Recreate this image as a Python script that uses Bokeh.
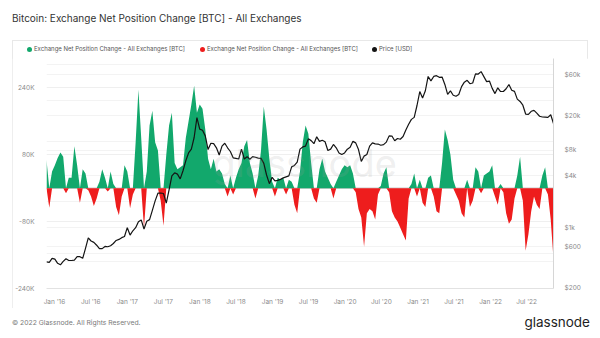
import pandas as pd
from bokeh.plotting import figure
from bokeh.layouts import column
from bokeh.models import (Range1d, LogScale, LogAxis, FixedTicker, Grid, Label, Div,
                          Span, MonthsTicker, DatetimeTickFormatter)
from bokeh.embed import file_html
from bokeh.resources import INLINE

# ---------------- data ----------------
start_date = "2015-11-22"
step = "14D"

# Exchange net position change, thousands of BTC (every 14 days)
netpos_kbtc = [
    67, -47, 40, 55, 72, 85, 75, -12, 25, 25, 100, 55, -35, 45, 35, -5, -20, -43, -25, 15,
    45, 25, -8, 40, 10, -45, -65, -20, 55, 40, -48, -15, 110, 235, 120, -95, 40, 150, 185, 110,
    90, -30, -90, 80, 150, 180, 60, 45, 50, 55, 120, 160, 200, 245, 180, 200, 190, 140, 70, 45,
    70, 40, 45, 35, 10, -20, 30, -15, 25, 45, 60, 100, 115, 60, 35, -25, 30, 90, 195, 140,
    70, 15, -20, 25, 20, 25, -15, 20, 15, -40, -60, 40, 110, 150, 130, 60, -25, -35, 45, 70,
    40, 25, 10, -25, 15, 30, 45, 55, 50, 55, 35, -10, -50, -70, -140, -60, -50, -55, -75, -15,
    5, 35, 50, -10, -55, -70, -80, -95, -110, -125, -25, 10, 35, -20, 20, -35, -45, 25, 30, -20,
    -55, -60, 60, 140, 115, 80, 20, -15, -30, -60, -70, 20, -45, -30, 50, 40, -12, 30, 35, 40,
    55, -20, -40, 10, -10, -60, -85, -75, -25, 30, 75, -30, -150, -110, -55, -20, -40, -50, 30, 50,
    -15, -75, -170,
]

# BTC price in USD (same dates)
price_usd = [
    400, 395, 440, 430, 385, 370, 405, 435, 415, 415, 420, 460, 460, 440, 575, 760, 700, 675, 625, 570,
    570, 605, 600, 617, 655, 710, 730, 765, 790, 1000, 820, 920, 1000, 1170, 1230, 965, 1190, 1240, 1590, 2050,
    2520, 2530, 2500, 1930, 2750, 4000, 4350, 4200, 3700, 4600, 6000, 7400, 8200, 11200, 19100, 14000, 13600, 11700, 8100, 9600,
    9500, 8500, 7000, 8900, 9600, 8500, 7700, 6500, 6400, 6300, 8200, 6300, 6700, 6250, 6700, 6600, 6450, 6400, 5600, 4100,
    3250, 3850, 3500, 3550, 3650, 3800, 3900, 4000, 5100, 5300, 5800, 8200, 8700, 8900, 10800, 10300, 9500, 11400, 10100, 10400,
    10000, 7900, 8200, 9300, 8500, 7400, 7100, 7400, 8200, 8600, 10100, 9700, 8100, 5900, 6800, 7100, 8900, 9700, 9450, 9400,
    9100, 9250, 9900, 11700, 11650, 10250, 10900, 10700, 11500, 13700, 16000, 18200, 19200, 26400, 38300, 32300, 39200, 57500, 51000, 57500,
    58700, 56200, 56600, 46400, 35600, 39100, 34700, 33800, 35400, 43800, 49300, 51800, 47300, 48200, 61500, 61300, 65500, 57200, 50000, 50800,
    41800, 36300, 42400, 38400, 38400, 41300, 46400, 39700, 38500, 31300, 29400, 26600, 21000, 20800, 22600, 23200, 21500, 19800, 19400, 19300,
    19200, 20600, 16300,
]

left_ticks = [-240000, -80000, 80000, 240000]
left_labels = ["-240K", "-80K", "80K", "240K"]
right_ticks = [200, 600, 1000, 4000, 8000, 20000, 60000]
right_labels = ["$200", "$600", "$1k", "$4k", "$8k", "$20k", "$60k"]
right_grid = [400, 500, 600, 1000, 2000, 4000, 8000, 10000, 20000, 30000, 60000, 80000]

title_text = "Bitcoin: Exchange Net Position Change [BTC] - All Exchanges"
series_name = "Exchange Net Position Change - All Exchanges [BTC]"
price_name = "Price [USD]"
footer_text = "\u00a9 2022 Glassnode. All Rights Reserved."
brand = "glassnode"

# ---------------- derived ----------------
dates = pd.date_range(start_date, periods=len(netpos_kbtc), freq=step)
vals = [v * 1000 for v in netpos_kbtc]
pos = [max(v, 0) for v in vals]
neg = [min(v, 0) for v in vals]

GREEN = "#12a86c"
RED = "#ee1d1d"
BLACK = "#141414"
FONT = "Inter"

# chart box occupies x 12..588, y 40..308 of the page: legend row (18px) + figure (250px)
BW, LH, PH = 576, 18, 250
FL, FR, FT, FB = 32, 541, 0, 234   # frame inside the figure

p = figure(width=BW, height=PH, x_axis_type="datetime", output_backend="svg",
           toolbar_location=None,
           x_range=Range1d(dates[0], dates[-1]),
           y_range=Range1d(-240000, 310000),
           min_border_left=FL, min_border_right=BW - FR,
           min_border_top=FT, min_border_bottom=PH - FB,
           margin=(0, 0, 0, 0))
p.outline_line_color = None
p.background_fill_color = "white"
p.border_fill_color = "white"

p.extra_y_ranges = {"price": Range1d(196, 93000)}
p.extra_y_scales = {"price": LogScale()}

# grids
p.xgrid.visible = False
p.ygrid.ticker = FixedTicker(ticks=left_ticks)
p.ygrid.grid_line_color = "#efefef"
pg = Grid(dimension=1, ticker=FixedTicker(ticks=right_grid), y_range_name="price",
          grid_line_color="#f3f3f3")
p.add_layout(pg)

# zero line
p.add_layout(Span(location=0, dimension="width", line_color="#b5b5b5", line_width=1,
                  level="underlay"))

# areas
r_pos = p.varea(x=dates, y1=0, y2=pos, fill_color=GREEN)
r_neg = p.varea(x=dates, y1=neg, y2=0, fill_color=RED)

# price line
r_price = p.line(x=dates, y=price_usd, y_range_name="price", line_color=BLACK, line_width=1.2)

# watermark
p.add_layout(Label(x=258, y=126, x_units="screen", y_units="screen", text=brand,
                   text_font=FONT, text_font_size="38px", text_color="#a0a0a0",
                   text_align="center", text_baseline="middle", text_alpha=0.18))

# axes
ax = p.xaxis[0]
ax.ticker = MonthsTicker(months=[0, 6])
ax.formatter = DatetimeTickFormatter(months="%b '%y", years="%b '%y", days="%b '%y")
ax.axis_line_color = "#e2e2e2"
ax.major_tick_line_color = None
ax.minor_tick_line_color = None
ax.major_label_text_font = FONT
ax.major_label_text_font_size = "6.5px"
ax.major_label_text_color = "#8a8a8a"
ax.major_label_standoff = 3

ay = p.yaxis[0]
ay.ticker = FixedTicker(ticks=left_ticks)
ay.major_label_overrides = {t: l for t, l in zip(left_ticks, left_labels)}
ay.axis_line_color = None
ay.major_tick_line_color = None
ay.minor_tick_line_color = None
ay.major_label_text_font = FONT
ay.major_label_text_font_size = "6.5px"
ay.major_label_text_color = "#8a8a8a"
ay.major_label_standoff = 6

ar = LogAxis(y_range_name="price", ticker=FixedTicker(ticks=right_ticks))
ar.major_label_overrides = {t: l for t, l in zip(right_ticks, right_labels)}
ar.axis_line_color = "#d6d6d6"
ar.major_tick_line_color = None
ar.minor_tick_line_color = None
ar.major_label_text_font = FONT
ar.major_label_text_font_size = "6.5px"
ar.major_label_text_color = "#8a8a8a"
ar.major_label_standoff = 5
p.add_layout(ar, "right")


def legend_entry(left, color, text):
    return ('<span style="position:absolute;left:%dpx;top:7px;width:5px;height:5px;'
            'border-radius:50%%;background:%s"></span>'
            '<span style="position:absolute;left:%dpx;top:4px;font-size:6px;line-height:10px;'
            'color:#555555">%s</span>') % (left, color, left + 7, text)


legend_div = Div(width=BW, height=LH, margin=(0, 0, 0, 0),
                 text=('<div style="position:relative;width:%dpx;height:%dpx;font-family:Inter;'
                       'white-space:nowrap">' % (BW, LH)
                       + legend_entry(15, GREEN, series_name)
                       + legend_entry(188, RED, series_name)
                       + legend_entry(360, BLACK, price_name)
                       + '</div>'))

box = column(legend_div, p, spacing=0, width=BW, height=LH + PH, margin=(0, 12, 0, 12),
             styles={"outline": "1px solid #e8e8e8", "outline-offset": "-1px"})

title_div = Div(width=600, height=40, margin=(0, 0, 0, 0),
                text=('<div style="padding:11px 0 0 12px;font-family:Inter;font-size:10px;'
                      'line-height:14px;color:#333333;white-space:nowrap">' + title_text + '</div>'))

footer_div = Div(width=600, height=30, margin=(0, 0, 0, 0),
                 text=('<div style="position:relative;width:600px;height:30px;font-family:Inter;white-space:nowrap">'
                       '<span style="position:absolute;left:12px;top:10px;font-size:6.8px;line-height:10px;color:#7a7a7a">'
                       + footer_text + '</span>'
                       '<span style="position:absolute;right:10px;top:5px;font-size:13.5px;line-height:18px;color:#1e1e1e">'
                       + brand + '</span></div>'))

layout = column(title_div, box, footer_div, spacing=0)

open("out.html", "w").write(file_html(layout, INLINE))
